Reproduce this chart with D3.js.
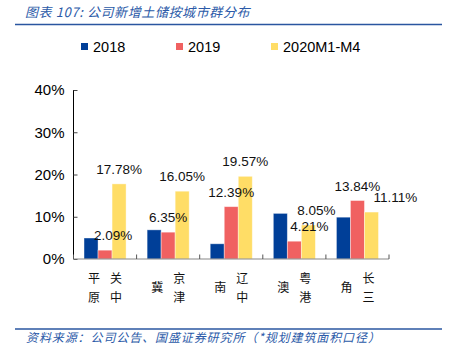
<!DOCTYPE html>
<html>
<head>
<meta charset="utf-8">
<script src="https://cdn.jsdelivr.net/npm/d3@7"></script>
<style>
  body { margin: 0; background: #fff; }
  svg text { font-family: "Liberation Sans", Arial, sans-serif; }
</style>
</head>
<body>
<script>
// Data
var categories = ["关中平原", "京津冀", "辽中南", "粤港澳", "长三角"];
var series = ["2018", "2019", "2020M1-M4"];
var v2018 = [4.97, 6.90, 3.60, 10.80, 9.90];
var v2019 = [2.09, 6.35, 12.39, 4.21, 13.84];
var v2020 = [17.78, 16.05, 19.57, 8.05, 11.11];
var yTicks = [0, 10, 20, 30, 40];

// label nudges (px) for the labelled series, to match the reference
var labelShift = {
  "2019": [8, 0, 0, 15, 0],
  "2020M1-M4": [0, 0, 0, 8, 24]
};

var colors = {"2018": "#003f98", "2019": "#f06161", "2020M1-M4": "#ffdd66"};
var values = {"2018": v2018, "2019": v2019, "2020M1-M4": v2020};

var W = 454, H = 361;
var margin = {top: 90, right: 65, bottom: 102, left: 73.5};
var width = W - margin.left - margin.right,
    height = H - margin.top - margin.bottom;

var svg = d3.select("body").append("svg")
  .attr("width", W).attr("height", H);

// title + rules
svg.append("text")
  .attr("x", 25).attr("y", 17)
  .style("font-family", "'Noto Sans CJK SC', sans-serif")
  .style("font-size", "13px").style("font-style", "italic")
  .style("letter-spacing", "0.6px")
  .attr("fill", "#2b5aa8")
  .text("图表 107:  公司新增土储按城市群分布");
svg.append("line").attr("x1", 15).attr("x2", 442).attr("y1", 24.5).attr("y2", 24.5)
  .attr("stroke", "#2a56a0").attr("stroke-width", 1.5);
svg.append("line").attr("x1", 15).attr("x2", 442).attr("y1", 329).attr("y2", 329)
  .attr("stroke", "#2a56a0").attr("stroke-width", 1.5);
svg.append("text")
  .attr("x", 26).attr("y", 342)
  .style("font-family", "'Noto Sans CJK SC', sans-serif")
  .style("font-size", "12px").style("font-style", "italic")
  .style("letter-spacing", "0.9px")
  .attr("fill", "#2b5aa8")
  .text("资料来源：公司公告、国盛证券研究所（*规划建筑面积口径）");

// legend
var legendX = [81, 176, 271];
var legend = svg.selectAll(".leg").data(series).enter().append("g")
  .attr("transform", function(d, i) { return "translate(" + legendX[i] + ",43)"; });
legend.append("rect").attr("width", 7).attr("height", 7)
  .attr("fill", function(d) { return colors[d]; });
legend.append("text").attr("x", 12).attr("y", 8.5)
  .style("font-size", "14.5px").attr("fill", "#000")
  .text(function(d) { return d; });

var g = svg.append("g")
  .attr("transform", "translate(" + margin.left + "," + margin.top + ")");

// scales
var x0 = d3.scaleBand().domain(categories).range([0, width]).paddingInner(1/3).paddingOuter(1/6);
var x1 = d3.scaleBand().domain(series).range([0, x0.bandwidth()]);
var y = d3.scaleLinear().domain([0, 40]).range([height, 0]);

// y axis
var yAxis = d3.axisLeft(y).tickValues(yTicks).tickSize(-4).tickPadding(9)
  .tickFormat(function(d) { return d + "%"; });
var yAx = g.append("g").call(yAxis);
yAx.select(".domain").attr("stroke", "#000").attr("d", "M0," + height + "V0");
yAx.selectAll(".tick line").attr("stroke", "#444");
yAx.selectAll("text").style("font-size", "15px").attr("fill", "#000");

// bars
var groups = g.selectAll(".grp").data(categories).enter().append("g")
  .attr("transform", function(d) { return "translate(" + x0(d) + ",0)"; });
groups.selectAll("rect").data(function(d, i) {
    return series.map(function(s) { return {s: s, v: values[s][i]}; });
  }).enter().append("rect")
  .attr("x", function(d) { return x1(d.s); })
  .attr("width", x1.bandwidth())
  .attr("y", function(d) { return y(d.v); })
  .attr("height", function(d) { return height - y(d.v); })
  .attr("fill", function(d) { return colors[d.s]; })
  .attr("stroke", "rgba(255,255,255,0.5)").attr("stroke-width", 0.8);

// x axis with separator ticks
var step = x0.step();
var sepTicks = d3.range(categories.length + 1).map(function(i) { return i * width / categories.length; });
g.append("line").attr("x1", 0).attr("x2", width).attr("y1", height).attr("y2", height)
  .attr("stroke", "#888").attr("stroke-width", 1.2);
g.selectAll(".sep").data(sepTicks).enter().append("line")
  .attr("x1", function(d) { return d; }).attr("x2", function(d) { return d; })
  .attr("y1", height).attr("y2", height - 4.5)
  .attr("stroke", "#555");

// vertical category labels: right column first, then left column
groups.each(function(d) {
  var cx = x0.bandwidth() / 2;
  var chars = Array.from(d);
  var right = chars.slice(0, 2), left = chars.slice(2);
  var grp = d3.select(this);
  right.forEach(function(c, k) {
    grp.append("text").attr("x", cx + 11).attr("y", height + 24 + k * 19)
      .attr("text-anchor", "middle")
      .style("font-family", "'Noto Sans CJK SC', sans-serif").style("font-size", "12px")
      .attr("fill", "#111").text(c);
  });
  var startY = left.length === 1 ? height + 33 : height + 24;
  left.forEach(function(c, k) {
    grp.append("text").attr("x", cx - 11).attr("y", startY + k * 19)
      .attr("text-anchor", "middle")
      .style("font-family", "'Noto Sans CJK SC', sans-serif").style("font-size", "12px")
      .attr("fill", "#111").text(c);
  });
});

// value labels
["2019", "2020M1-M4"].forEach(function(s) {
  g.selectAll(".lbl" + s).data(values[s]).enter().append("text")
    .attr("x", function(d, i) { return x0(categories[i]) + x1(s) + x1.bandwidth() / 2 + labelShift[s][i]; })
    .attr("y", function(d) { return y(d) - 10; })
    .attr("text-anchor", "middle")
    .style("font-size", "13.5px").attr("fill", "#111")
    .text(function(d) { return d.toFixed(2) + "%"; });
});
</script>
</body>
</html>
